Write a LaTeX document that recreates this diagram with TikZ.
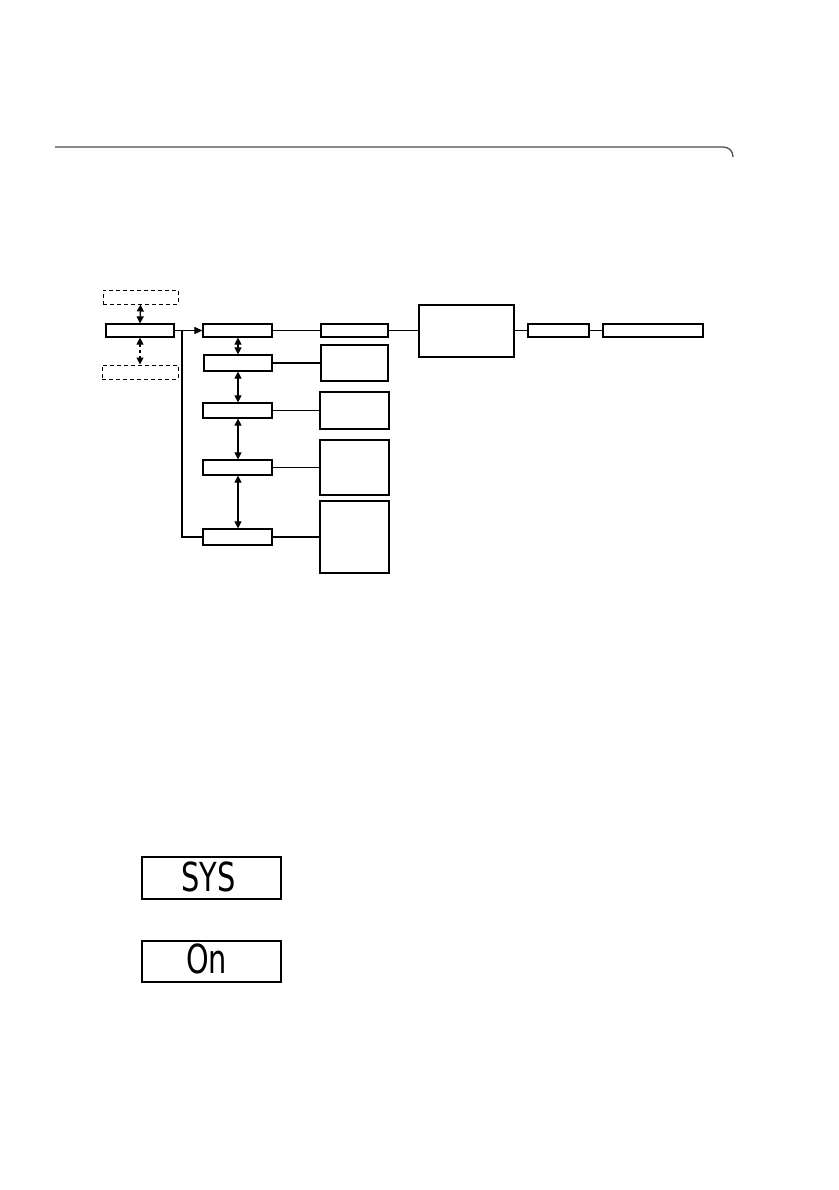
\documentclass[tikz,border=0pt]{standalone}
\usepackage{fontspec}
\usetikzlibrary{arrows.meta}
\newfontfamily\lcdfont[FakeStretch=0.72]{DejaVu Sans}
\tikzset{
  box/.style={draw=black, line width=1.2pt, rectangle, inner sep=0pt, fill=white},
  dbox/.style={box, line width=1pt, dashed, dash pattern=on 4pt off 3pt},
  conn/.style={draw=black, line width=1.1pt},
  dbl/.style={conn, {Triangle[length=7pt,width=7pt]}-{Triangle[length=7pt,width=7pt]}},
  sgl/.style={conn, -{Triangle[length=8pt,width=7pt]}},
  lcd/.style={box, line width=1.3pt},
  lcdtxt/.style={inner sep=0pt, font=\lcdfont\fontsize{40}{40}\selectfont}
}
\begin{document}
\begin{tikzpicture}[x=1pt,y=-1pt]
\useasboundingbox (0,0) rectangle (838,1190);
\fill[white] (0,0) rectangle (838,1190);
% top rule
\draw[line width=1.3pt, black!70] (55,147) -- (723,147) .. controls (729,147) and (733,151) .. (733,157);
% left column
\node[dbox, minimum width=75pt, minimum height=14pt] (d1) at (140.5,297) {};
\node[box, minimum width=68pt, minimum height=13pt] (L) at (140,330.5) {};
\node[dbox, minimum width=76pt, minimum height=14pt] (d2) at (140,372) {};
% middle column
\node[box, minimum width=69pt, minimum height=13pt] (B1) at (237.5,330.5) {};
\node[box, minimum width=68pt, minimum height=16pt] (B2) at (238,363) {};
\node[box, minimum width=69pt, minimum height=15pt] (B3) at (237.5,410.5) {};
\node[box, minimum width=69pt, minimum height=15pt] (B4) at (237.5,467.5) {};
\node[box, minimum width=69pt, minimum height=16pt] (B5) at (237.5,537) {};
% right column
\node[box, minimum width=67pt, minimum height=13pt] (R1) at (354.5,330.5) {};
\node[box, minimum width=67pt, minimum height=36pt] (R2) at (354.5,363) {};
\node[box, minimum width=69pt, minimum height=37pt] (R3) at (354.5,410.5) {};
\node[box, minimum width=69pt, minimum height=55pt] (R4) at (354.5,467.5) {};
\node[box, minimum width=69pt, minimum height=72pt] (R5) at (354.5,537) {};
% far right chain
\node[box, minimum width=95pt, minimum height=52pt] (Big) at (466.5,331) {};
\node[box, minimum width=61pt, minimum height=13pt] (P) at (558.5,330.5) {};
\node[box, minimum width=100pt, minimum height=13pt] (Q) at (653,330.5) {};
% connectors
\draw[dbl] (d1.south) -- (L.north);
\draw[dbl, dashed, dash pattern=on 3pt off 3pt] (L.south) -- (d2.north);
\draw[sgl] (L.east) -- (B1.west);
\coordinate (J) at (182,330.5);
\draw[conn] (J) |- (B5.west);
\draw[dbl] (B1.south -| B2.south) -- (B2.north);
\draw[dbl] (B2.south) -- (B3.north -| B2.south);
\draw[dbl] (B3.south -| B2.south) -- (B4.north -| B2.south);
\draw[dbl] (B4.south -| B2.south) -- (B5.north -| B2.south);
\draw[conn] (B1.east) -- (R1.west);
\draw[conn] (B2.east) -- (R2.west);
\draw[conn] (B3.east) -- (R3.west);
\draw[conn] (B4.east) -- (R4.west);
\draw[conn] (B5.east) -- (R5.west);
\draw[conn] (R1.east) -- (R1.east -| Big.west);
\draw[conn] (Big.east |- P.west) -- (P.west);
\draw[conn] (P.east) -- (Q.west);
% LCD displays
\node[lcd, minimum width=139pt, minimum height=42pt] (lcd1) at (211.5,878) {};
\node[lcd, minimum width=139pt, minimum height=41pt] (lcd2) at (211.5,961.5) {};
\node[lcdtxt, anchor=base west] (t1) at (181,891) {SYS};
\node[lcdtxt, anchor=base west] (t2) at (186,973) {On};
\end{tikzpicture}
\end{document}
